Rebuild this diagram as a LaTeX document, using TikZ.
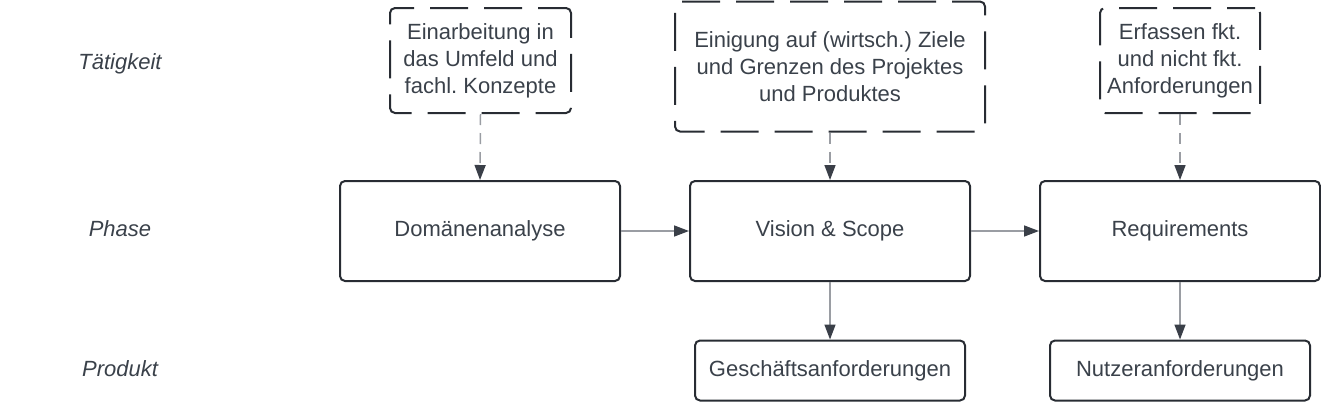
\documentclass[tikz,border=0pt]{standalone}
\usepackage{fontspec}
\setmainfont{Liberation Sans}
\usetikzlibrary{arrows.meta}
\frenchspacing
\definecolor{txt}{HTML}{3A414A}
\definecolor{bord}{HTML}{282C33}
\definecolor{conn}{HTML}{9A9DA3}
\definecolor{tipc}{HTML}{3A3F48}
\tikzset{
  base/.style={rectangle, rounded corners=5pt, draw=bord, line width=2pt, text=txt,
    font=\fontsize{22}{27}\selectfont, align=center, inner sep=0pt},
  actbox/.style={base, dash pattern=on 38pt off 16pt, dash phase=10pt},
  phasebox/.style={base, minimum width=280pt, minimum height=100pt},
  prodbox/.style={base, minimum height=60pt},
  rowlabel/.style={text=txt, font=\fontsize{22}{27}\selectfont\itshape},
  conarrow/.style={draw=conn, line width=1.5pt,
    -{Triangle[length=15pt,width=11pt,fill=tipc,color=tipc]}},
  dasharrow/.style={conarrow, dash pattern=on 11pt off 8pt}
}
\begin{document}
\begin{tikzpicture}[x=1pt,y=-1pt]
\useasboundingbox (0,0) rectangle (1321,402);
% row labels
\node[rowlabel] (lt) at (120,64) {Tätigkeit};
\node[rowlabel] (lp) at (120,228.5) {Phase};
\node[rowlabel] (lq) at (120,369) {Produkt};
% activity boxes
\node[actbox, minimum width=181pt, minimum height=105pt] (a1) at (480.5,60.5)
  {Einarbeitung in\\das Umfeld und\\fachl. Konzepte};
\node[actbox, minimum width=310pt, minimum height=130pt] (a2) at (830,66.5)
  {Einigung auf (wirtsch.) Ziele\\und Grenzen des Projektes\\und Produktes};
\node[actbox, minimum width=160pt, minimum height=105pt] (a3) at (1180,60.5)
  {Erfassen fkt.\\und nicht fkt.\\Anforderungen};
% phase boxes
\node[phasebox] (p1) at (480,231) {Domänenanalyse};
\node[phasebox] (p2) at (830,231) {Vision \& Scope};
\node[phasebox] (p3) at (1180,231) {Requirements};
% product boxes
\node[prodbox, minimum width=270pt] (q2) at (830,370.5) {Geschäftsanforderungen};
\node[prodbox, minimum width=260pt] (q3) at (1180,370.5) {Nutzeranforderungen};
% connectors
\draw[dasharrow] (a1.south) -- (p1.north);
\draw[dasharrow] (a2.south) -- (p2.north);
\draw[dasharrow] (a3.south) -- (p3.north);
\draw[conarrow] (p1.east) -- (p2.west);
\draw[conarrow] (p2.east) -- (p3.west);
\draw[conarrow] (p2.south) -- (q2.north);
\draw[conarrow] (p3.south) -- (q3.north);
\end{tikzpicture}
\end{document}
